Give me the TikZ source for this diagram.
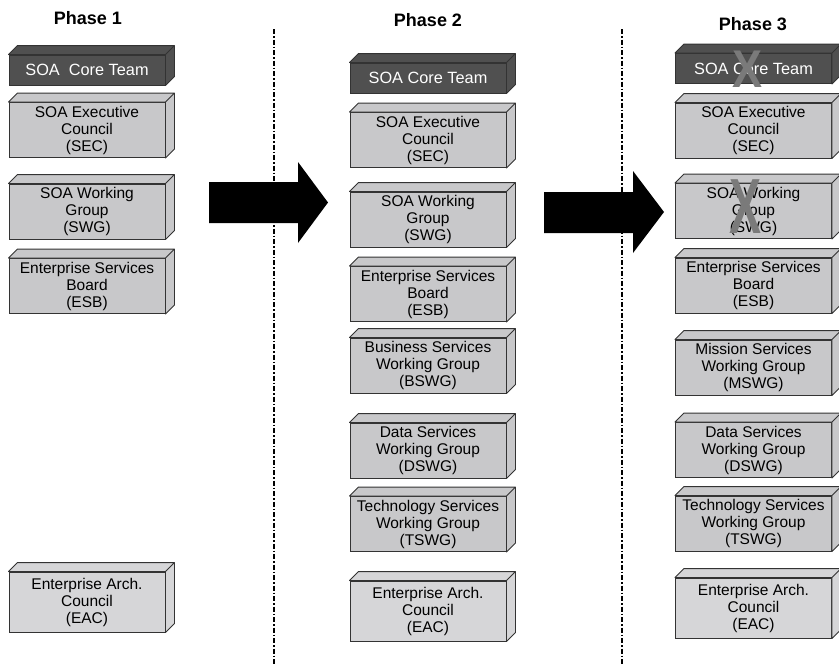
\documentclass[tikz,border=0pt]{standalone}
\usepackage{fontspec}
\setmainfont{Liberation Sans}
\usetikzlibrary{positioning}

\definecolor{boxgray}{HTML}{C8C8CA}
\definecolor{eacgray}{HTML}{D6D6D8}
\definecolor{coregray}{HTML}{505050}
\definecolor{crossgray}{HTML}{7A7A7A}

\begin{document}
\begin{tikzpicture}[
    x=1pt, y=-1pt,
    block/.style={draw=black!80, line width=0.9pt, fill=boxgray, minimum width=156pt,
        minimum height=55pt, inner sep=0pt, align=center,
        font=\fontsize{15.5}{17}\selectfont},
    core/.style={block, fill=coregray, text=white, minimum height=30pt,
        font=\fontsize{16.3}{18}\selectfont},
    eac/.style={block, fill=eacgray, minimum height=60pt},
    phase/.style={font=\fontsize{18}{20}\selectfont\bfseries},
    divider/.style={line width=1.1pt, dash pattern=on 5pt off 2pt on 1.5pt off 2pt},
    bigarrow/.style={fill=black},
    cross/.style={text=crossgray, inner sep=0pt}
]
    \useasboundingbox (0,0) rectangle (839,665);

    % Phase headings
    \node[phase] (head1) at (88,18) {Phase 1};
    \node[phase] (head2) at (428,20) {Phase 2};
    \node[phase] (head3) at (753,24) {Phase 3};

    % Dividers
    \draw[divider] (274,29) -- (274,665);
    \draw[divider] (622,29) -- (622,665);

    % Phase 1
    \node[core] (p1-core) at (87,70) {SOA\ \ Core Team};
    \node[block] (p1-sec) at (87,130) {SOA Executive\\Council\\(SEC)};
    \node[block] (p1-swg) at (87,211.5) {SOA Working\\Group\\(SWG)};
    \node[block] (p1-esb) at (87,286) {Enterprise Services\\Board\\(ESB)};
    \node[eac] (p1-eac) at (87,602) {Enterprise Arch.\\Council\\(EAC)};

    % Phase 2
    \node[core] (p2-core) at (428,78) {SOA Core Team};
    \node[block] (p2-sec) at (428,140) {SOA Executive\\Council\\(SEC)};
    \node[block] (p2-swg) at (428,219.5) {SOA Working\\Group\\(SWG)};
    \node[block] (p2-esb) at (428,294) {Enterprise Services\\Board\\(ESB)};
    \node[block] (p2-bswg) at (428,365.5) {Business Services\\Working Group\\(BSWG)};
    \node[block] (p2-dswg) at (428,450.5) {Data Services\\Working Group\\(DSWG)};
    \node[block] (p2-tswg) at (428,524) {Technology Services\\Working Group\\(TSWG)};
    \node[eac] (p2-eac) at (428,611) {Enterprise Arch.\\Council\\(EAC)};

    % Phase 3
    \node[core] (p3-core) at (753.5,68.5) {SOA Core Team};
    \node[block] (p3-sec) at (753.5,130.5) {SOA Executive\\Council\\(SEC)};
    \node[block] (p3-swg) at (753.5,211) {SOA Working\\Group\\(SWG)};
    \node[block] (p3-esb) at (753.5,285.5) {Enterprise Services\\Board\\(ESB)};
    \node[block] (p3-mswg) at (753.5,367.5) {Mission Services\\Working Group\\(MSWG)};
    \node[block] (p3-dswg) at (753.5,450) {Data Services\\Working Group\\(DSWG)};
    \node[block] (p3-tswg) at (753.5,523.5) {Technology Services\\Working Group\\(TSWG)};
    \node[eac] (p3-eac) at (753.5,608) {Enterprise Arch.\\Council\\(EAC)};

    % Top and side faces
    \foreach \n/\c in {p1-core/coregray, p1-sec/boxgray, p1-swg/boxgray, p1-esb/boxgray, p1-eac/eacgray,
        p2-core/coregray, p2-sec/boxgray, p2-swg/boxgray, p2-esb/boxgray, p2-bswg/boxgray,
        p2-dswg/boxgray, p2-tswg/boxgray, p2-eac/eacgray,
        p3-core/coregray, p3-sec/boxgray, p3-swg/boxgray, p3-esb/boxgray, p3-mswg/boxgray,
        p3-dswg/boxgray, p3-tswg/boxgray, p3-eac/eacgray} {
        \filldraw[draw=black!80, line width=0.9pt, fill=\c, line join=round]
            (\n.north west) -- ++(9,-9) -- ([shift={(9,-9)}]\n.north east) -- (\n.north east) -- cycle
            (\n.north east) -- ++(9,-9) -- ([shift={(9,-9)}]\n.south east) -- (\n.south east) -- cycle;
    }

    % Block arrows
    \fill[bigarrow] (209,182) -- (298,182) -- (298,162) -- (328,202.5) -- (298,243) -- (298,223) -- (209,223) -- cycle;
    \fill[bigarrow] (544,192) -- (633,192) -- (633,171) -- (664,212) -- (633,253) -- (633,233) -- (544,233) -- cycle;

    % Removed groups
    \node[cross, font=\fontsize{45}{45}\selectfont\bfseries] (x-core) at (748,69) {\scalebox{1}[1.18]{X}};
    \node[cross, font=\fontsize{48}{48}\selectfont\bfseries] (x-swg) at (746,207) {\scalebox{1}[1.63]{X}};

\end{tikzpicture}
\end{document}
